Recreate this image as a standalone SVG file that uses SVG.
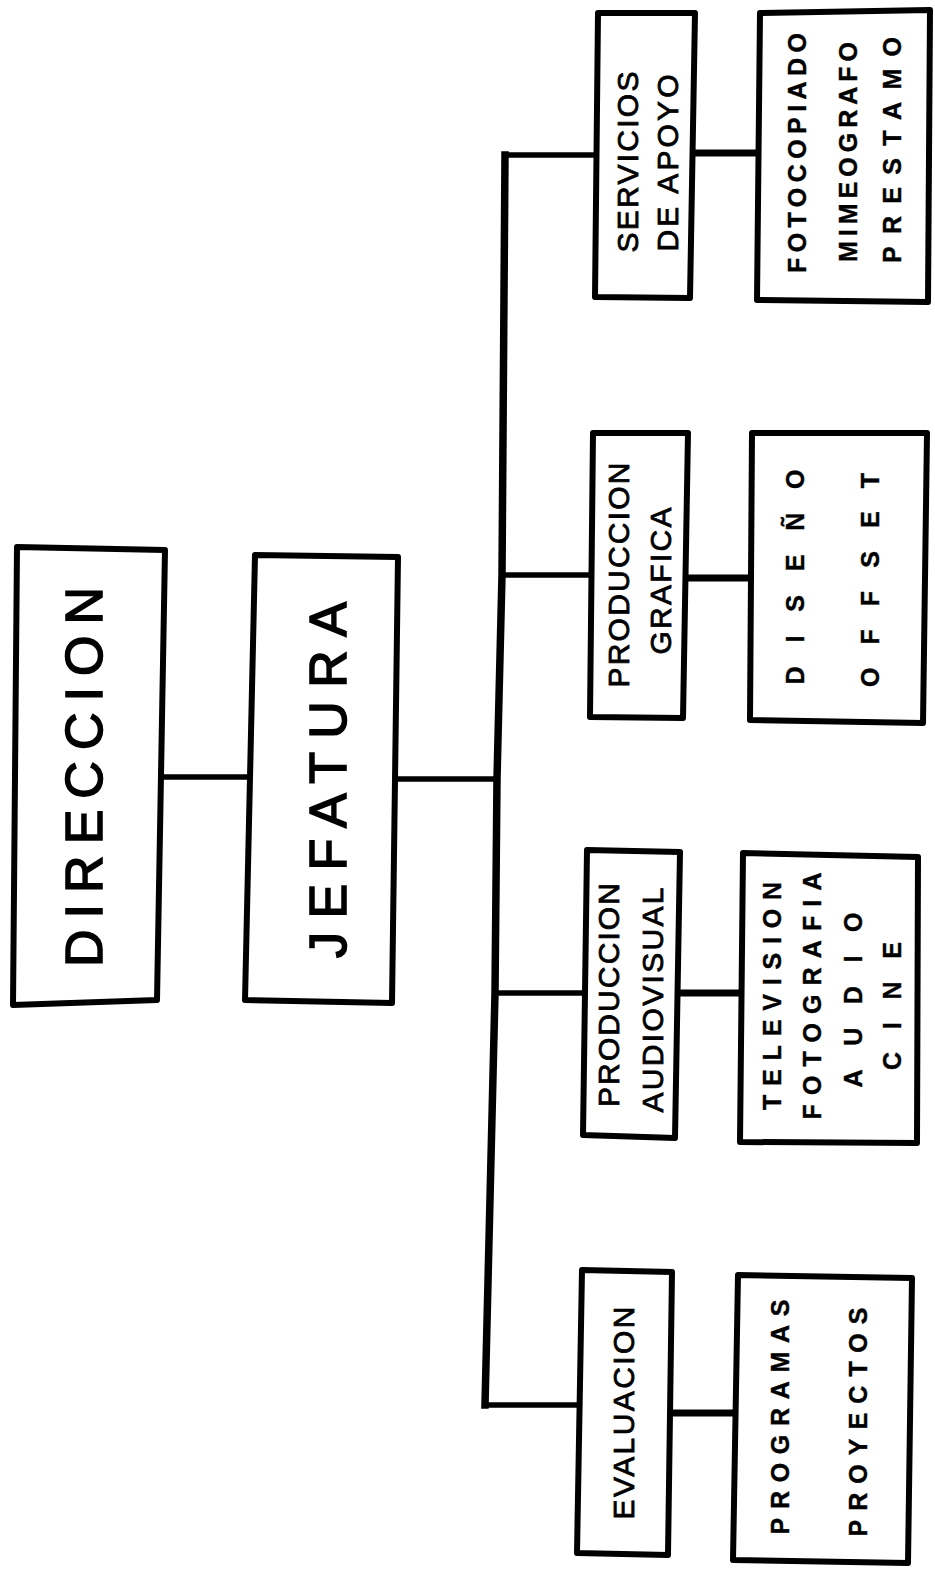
<svg xmlns="http://www.w3.org/2000/svg" width="935" height="1576" viewBox="0 0 935 1576">
<style>
  .box { fill: #fff; stroke: #000; stroke-width: 6; stroke-linejoin: round; }
  .ln { fill: none; stroke: #000; stroke-width: 5.5; stroke-linecap: square; stroke-linejoin: round; }
  .trunk { stroke-width: 7.5; }
  .thick { stroke-width: 7; }
  text { font-family: "Liberation Sans", Arial, Helvetica, sans-serif; fill: #000; text-anchor: middle; }
  .big { font-size: 52px; stroke: #000; stroke-width: 1.6; }
  .mid { font-size: 30px; stroke: #000; stroke-width: 0.8; }
  .sub { font-size: 25px; font-weight: bold; stroke: #000; stroke-width: 0.4; }
</style>
<rect width="935" height="1576" fill="#fff"/>
<g id="connectors">
  <polyline class="ln trunk" points="505,155 502,575 497,779 495,993 485,1405"/>
  <line class="ln" x1="160" y1="777" x2="250" y2="777"/>
  <line class="ln" x1="394" y1="779" x2="497" y2="779"/>
  <line class="ln" x1="505" y1="155" x2="597" y2="155"/>
  <line class="ln" x1="502" y1="575" x2="591" y2="575"/>
  <line class="ln" x1="495" y1="993" x2="585" y2="993"/>
  <line class="ln" x1="485" y1="1405" x2="578" y2="1405"/>
  <line class="ln thick" x1="693" y1="153" x2="758" y2="153"/>
  <line class="ln thick" x1="687" y1="578" x2="751" y2="578"/>
  <line class="ln thick" x1="678" y1="993" x2="742" y2="993"/>
  <line class="ln thick" x1="670" y1="1413" x2="736" y2="1413"/>
</g>
<g id="direccion">
  <polygon class="box" points="17,547 165,550 157,1000 13,1005"/>
  <text class="big" transform="translate(83,777) rotate(-90)" x="0" y="18.5" textLength="380" lengthAdjust="spacing">DIRECCION</text>
</g>
<g id="jefatura">
  <polygon class="box" points="255,555 398,557 392,1003 245,1000"/>
  <text class="big" transform="translate(327,780) rotate(-90)" x="0" y="18.5" textLength="356" lengthAdjust="spacing">JEFATURA</text>
</g>
<g id="servicios">
  <polygon class="box" points="598,13 695,13 690,298 595,297"/>
  <text class="mid" transform="translate(627,162) rotate(-90)" x="0" y="10.7" textLength="181" lengthAdjust="spacing">SERVICIOS</text>
  <text class="mid" transform="translate(667,163) rotate(-90)" x="0" y="10.7" textLength="177" lengthAdjust="spacing">DE APOYO</text>
</g>
<g id="fotocopiado">
  <polygon class="box" points="760,13 930,10 928,302 757,300"/>
  <text class="sub" transform="translate(797,153) rotate(-90)" x="0" y="9" textLength="240" lengthAdjust="spacing">FOTOCOPIADO</text>
  <text class="sub" transform="translate(848,152) rotate(-90)" x="0" y="9" textLength="220" lengthAdjust="spacing">MIMEOGRAFO</text>
  <text class="sub" transform="translate(892,150) rotate(-90)" x="0" y="9" textLength="226" lengthAdjust="spacing">PRESTAMO</text>
</g>
<g id="produccion-grafica">
  <polygon class="box" points="593,433 688,433 683,718 590,717"/>
  <text class="mid" transform="translate(618,575) rotate(-90)" x="0" y="10.7" textLength="225" lengthAdjust="spacing">PRODUCCION</text>
  <text class="mid" transform="translate(660,581) rotate(-90)" x="0" y="10.7" textLength="147" lengthAdjust="spacing">GRAFICA</text>
</g>
<g id="diseno">
  <polygon class="box" points="752,433 927,433 923,723 750,720"/>
  <text class="sub" transform="translate(795,577) rotate(-90)" x="0" y="9" textLength="215" lengthAdjust="spacing">DISEÑO</text>
  <text class="sub" transform="translate(870,580) rotate(-90)" x="0" y="9" textLength="214" lengthAdjust="spacing">OFFSET</text>
</g>
<g id="produccion-audiovisual">
  <polygon class="box" points="587,850 680,852 675,1138 583,1135"/>
  <text class="mid" transform="translate(608,995) rotate(-90)" x="0" y="10.7" textLength="224" lengthAdjust="spacing">PRODUCCION</text>
  <text class="mid" transform="translate(652,1000) rotate(-90)" x="0" y="10.7" textLength="225" lengthAdjust="spacing">AUDIOVISUAL</text>
</g>
<g id="television">
  <polygon class="box" points="743,853 918,857 917,1143 740,1142"/>
  <text class="sub" transform="translate(772,996) rotate(-90)" x="0" y="9" textLength="228" lengthAdjust="spacing">TELEVISION</text>
  <text class="sub" transform="translate(812,996) rotate(-90)" x="0" y="9" textLength="247" lengthAdjust="spacing">FOTOGRAFIA</text>
  <text class="sub" transform="translate(853,1000) rotate(-90)" x="0" y="9" textLength="175" lengthAdjust="spacing">AUDIO</text>
  <text class="sub" transform="translate(892,1006) rotate(-90)" x="0" y="9" textLength="128" lengthAdjust="spacing">CINE</text>
</g>
<g id="evaluacion">
  <polygon class="box" points="582,1270 672,1272 668,1555 577,1553"/>
  <text class="mid" transform="translate(623,1413) rotate(-90)" x="0" y="10.7" textLength="213" lengthAdjust="spacing">EVALUACION</text>
</g>
<g id="programas">
  <polygon class="box" points="738,1275 912,1278 908,1563 733,1560"/>
  <text class="sub" transform="translate(780,1417) rotate(-90)" x="0" y="9" textLength="235" lengthAdjust="spacing">PROGRAMAS</text>
  <text class="sub" transform="translate(858,1422) rotate(-90)" x="0" y="9" textLength="229" lengthAdjust="spacing">PROYECTOS</text>
</g>
</svg>
